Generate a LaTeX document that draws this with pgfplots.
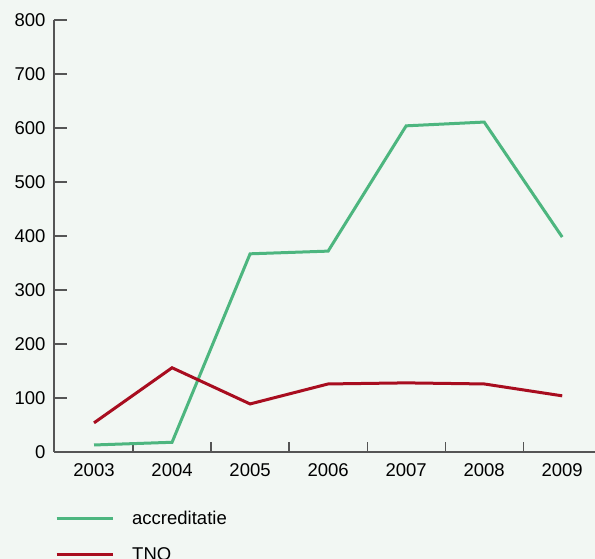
\documentclass[border=0pt]{standalone}
\usepackage{fontspec}
\setmainfont{Liberation Sans}
\usepackage{pgfplots}
\pgfplotsset{compat=1.18}

\definecolor{bg}{HTML}{F2F7F3}
\definecolor{acc}{HTML}{4DB67F}
\definecolor{tno}{HTML}{A80D1F}
\definecolor{axgray}{HTML}{555555}

\begin{document}
\begin{tikzpicture}
\fill[bg] (-54pt,-107pt) rectangle (541pt,452pt);
\begin{axis}[
    at={(0pt,0pt)}, anchor=origin,
    scale only axis,
    width=541pt, height=432pt,
    xmin=2002.487, xmax=2009.42,
    ymin=0, ymax=800,
    axis x line=bottom, axis y line=left,
    axis line style={axgray, line width=1.2pt, -},
    tick align=inside,
    xtick={2003,...,2009},
    minor xtick={2003.5,2004.5,...,2008.5},
    ytick={0,100,...,800},
    major tick length=13pt,
    minor tick length=10pt,
    major x tick style={draw=none},
    minor x tick style={axgray, line width=1.2pt},
    ytick style={axgray, line width=1.2pt},
    x tick label style={/pgf/number format/1000 sep={}, yshift=-8pt},
    y tick label style={xshift=-5pt},
    /pgf/number format/assume math mode=true,
    ticklabel style={font=\fontsize{18.5}{22}\selectfont, text=black},
    legend style={at={(axis description cs:0,0)}, anchor=north west,
        xshift=-2pt, yshift=-57pt, draw=none, fill=none,
        font=\fontsize{18.5}{22}\selectfont, row sep=21pt,
        nodes={inner sep=0pt},
        /tikz/every odd column/.append style={column sep=18pt}},
    legend cell align=left,
    legend image code/.code={\draw[#1] (0pt,0pt) -- (56pt,0pt);},
]
\addplot[acc, line width=3pt] coordinates {
    (2003,13) (2004,18) (2005,367) (2006,372) (2007,604) (2008,611) (2009,398)
};
\addplot[tno, line width=3pt] coordinates {
    (2003,54) (2004,156) (2005,89) (2006,126) (2007,128) (2008,126) (2009,104)
};
\legend{accreditatie, TNO}
\end{axis}
\pgfresetboundingbox
\useasboundingbox (-54pt,-107pt) rectangle (541pt,452pt);
\end{tikzpicture}
\end{document}
